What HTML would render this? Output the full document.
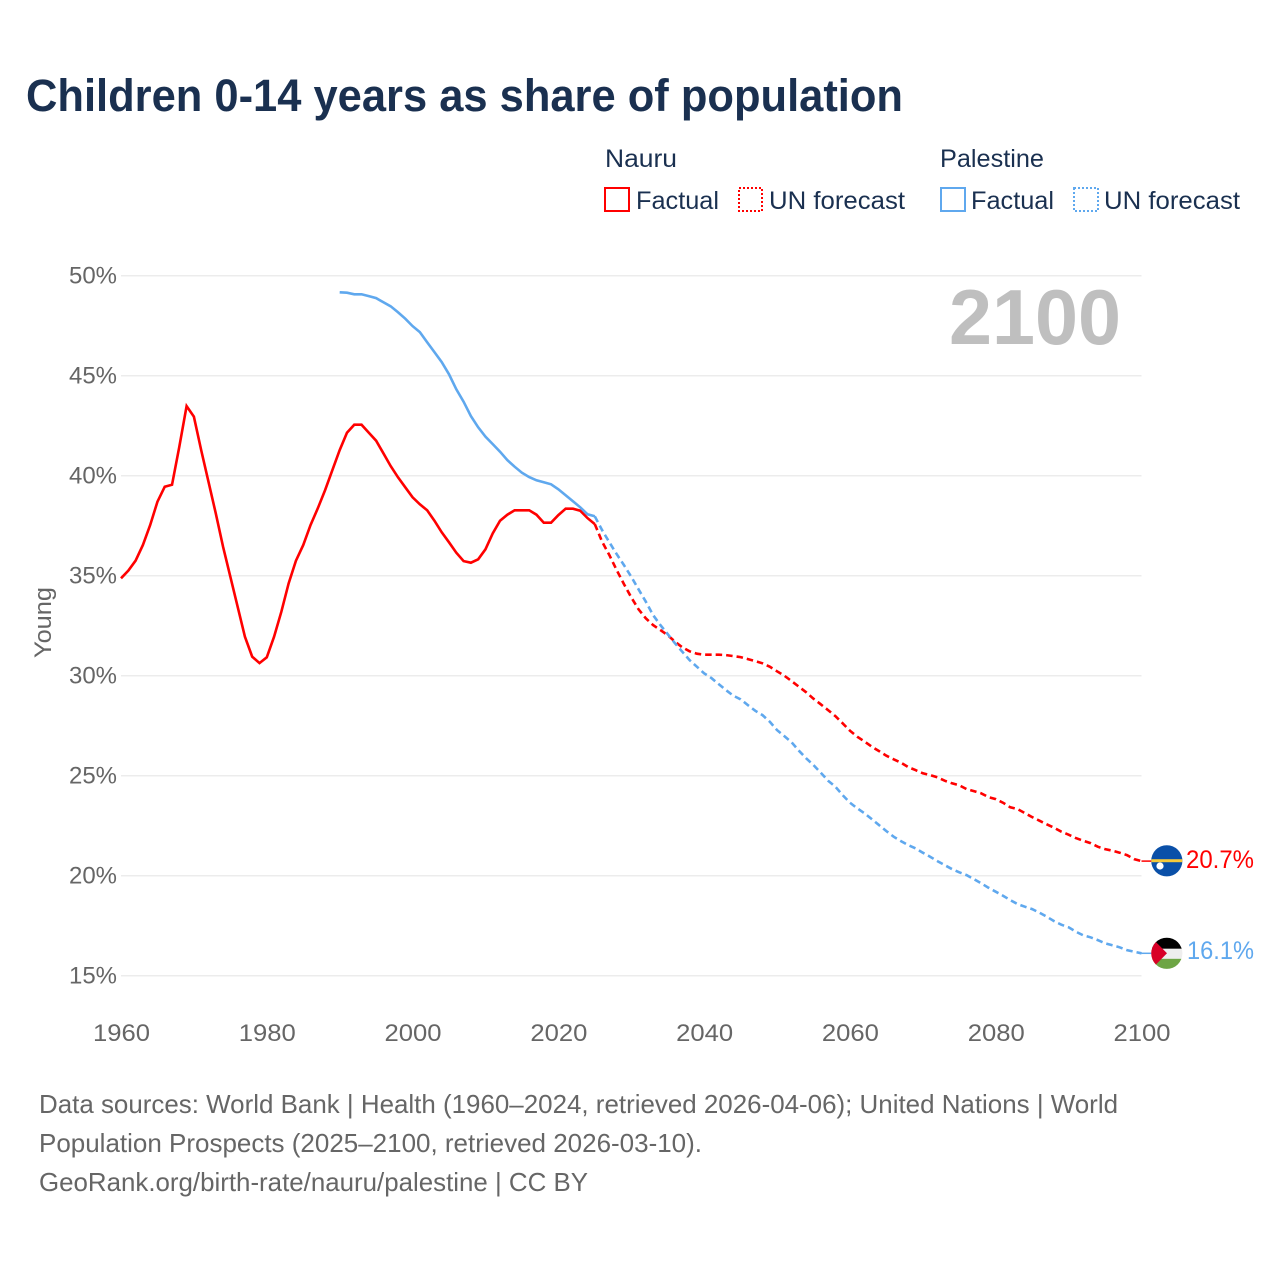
<!DOCTYPE html>
<html lang="en">
<head>
<meta charset="utf-8">
<title>Children 0-14 years as share of population</title>
<style>
html,body{margin:0;padding:0;background:#fff;}
svg{display:block;}
text{font-family:"Liberation Sans",sans-serif;}
</style>
</head>
<body>
<svg id="chart" width="1280" height="1280" viewBox="0 0 1280 1280" xmlns="http://www.w3.org/2000/svg">
  <defs>
    <clipPath id="clip-nauru"><circle cx="1166.8" cy="860.8" r="15.6"/></clipPath>
    <clipPath id="clip-palestine"><circle cx="1166.8" cy="953.3" r="15.6"/></clipPath>
  </defs>
  <rect x="0" y="0" width="1280" height="1280" fill="#fff"/>
  <text x="26" y="111" font-size="45" font-weight="700" fill="#1a3050" textLength="877" lengthAdjust="spacingAndGlyphs">Children 0-14 years as share of population</text>

  <g>
    <text x="605" y="167" font-size="25" fill="#1a3050" textLength="72" lengthAdjust="spacingAndGlyphs">Nauru</text>
    <rect x="605" y="188" width="24" height="23" fill="none" stroke="#ff0000" stroke-width="2"/>
    <text x="636" y="209" font-size="25" fill="#1a3050" textLength="83" lengthAdjust="spacingAndGlyphs">Factual</text>
    <rect x="739" y="188" width="23" height="23" fill="none" stroke="#ff0000" stroke-width="2" stroke-dasharray="2 2"/>
    <text x="769" y="209" font-size="25" fill="#1a3050" textLength="136" lengthAdjust="spacingAndGlyphs">UN forecast</text>
  </g>
  <g>
    <text x="940" y="167" font-size="25" fill="#1a3050" textLength="104" lengthAdjust="spacingAndGlyphs">Palestine</text>
    <rect x="941" y="188" width="24" height="23" fill="none" stroke="#5fa8ee" stroke-width="2"/>
    <text x="971" y="209" font-size="25" fill="#1a3050" textLength="83" lengthAdjust="spacingAndGlyphs">Factual</text>
    <rect x="1074" y="188" width="24" height="23" fill="none" stroke="#5fa8ee" stroke-width="2" stroke-dasharray="2 2"/>
    <text x="1104" y="209" font-size="25" fill="#1a3050" textLength="136" lengthAdjust="spacingAndGlyphs">UN forecast</text>
  </g>

  <g id="grid"></g>
  <g id="y-ticks"></g>
  <g id="x-ticks"></g>
  <text transform="translate(51 622.5) rotate(-90)" text-anchor="middle" font-size="24" fill="#666" textLength="71" lengthAdjust="spacingAndGlyphs">Young</text>
  <text x="949" y="344" font-size="78" font-weight="700" fill="#bfbfbf" textLength="172" lengthAdjust="spacingAndGlyphs">2100</text>

  <g id="series"></g>

  <g clip-path="url(#clip-nauru)">
    <rect x="1150" y="844" width="34" height="34" fill="#0a50a8"/>
    <rect x="1150" y="859.2" width="34" height="3" fill="#f5c93a"/>
    <circle cx="1160" cy="866" r="3.6" fill="#fff"/>
  </g>
  <g clip-path="url(#clip-palestine)">
    <rect x="1150" y="936" width="34" height="12.8" fill="#000"/>
    <rect x="1150" y="948.8" width="34" height="10" fill="#eeeeee"/>
    <rect x="1150" y="958.8" width="34" height="12" fill="#6da544"/>
    <polygon points="1150,936 1167,953.3 1150,970.6" fill="#d80027"/>
  </g>
  <text id="value-nauru" x="1186" y="868" font-size="25" fill="#ff0000" textLength="68" lengthAdjust="spacingAndGlyphs"></text>
  <text id="value-palestine" x="1187" y="959" font-size="25" fill="#5fa8ee" textLength="67" lengthAdjust="spacingAndGlyphs"></text>

  <g>
    <text x="39" y="1113" font-size="26" fill="#666" textLength="1079" lengthAdjust="spacingAndGlyphs">Data sources: World Bank | Health (1960–2024, retrieved 2026-04-06); United Nations | World</text>
    <text x="39" y="1152" font-size="26" fill="#666" textLength="663" lengthAdjust="spacingAndGlyphs">Population Prospects (2025–2100, retrieved 2026-03-10).</text>
    <text x="39" y="1191" font-size="26" fill="#666" textLength="549" lengthAdjust="spacingAndGlyphs">GeoRank.org/birth-rate/nauru/palestine | CC BY</text>
  </g>
</svg>
<script>
const yTicks = [50, 45, 40, 35, 30, 25, 20, 15];
const xTicks = [1960, 1980, 2000, 2020, 2040, 2060, 2080, 2100];

const nauruFactualStart = 1960;
const nauruFactual = [34.87,35.25,35.75,36.53,37.53,38.7,39.45,39.55,41.45,43.48,42.95,41.28,39.7,38.12,36.45,34.95,33.45,31.95,30.95,30.63,30.92,31.95,33.2,34.62,35.75,36.53,37.53,38.37,39.28,40.28,41.28,42.15,42.55,42.55,42.15,41.75,41.12,40.48,39.92,39.42,38.92,38.57,38.27,37.75,37.17,36.67,36.15,35.73,35.65,35.82,36.32,37.12,37.75,38.05,38.27,38.27,38.27,38.05,37.65,37.65,38.03,38.35,38.35,38.25,37.88,37.58];

const nauruForecastStart = 2025;
const nauruForecast = [37.58,36.7,36.03,35.28,34.58,33.92,33.32,32.87,32.53,32.28,32.03,31.7,31.42,31.22,31.1,31.05,31.05,31.05,31.03,30.98,30.93,30.83,30.73,30.62,30.45,30.22,30,29.73,29.45,29.17,28.85,28.57,28.28,27.98,27.62,27.25,26.95,26.71,26.45,26.23,26,25.82,25.65,25.43,25.28,25.12,25.03,24.92,24.75,24.62,24.52,24.33,24.23,24.12,23.93,23.83,23.65,23.42,23.33,23.13,22.93,22.75,22.57,22.4,22.2,22.05,21.88,21.75,21.63,21.45,21.33,21.25,21.15,21.03,20.83,20.73];

const palestineFactualStart = 1990;
const palestineFactual = [49.17,49.15,49.07,49.07,48.98,48.88,48.67,48.47,48.17,47.85,47.48,47.18,46.67,46.18,45.68,45.07,44.32,43.7,42.98,42.42,41.95,41.58,41.2,40.78,40.45,40.15,39.93,39.77,39.67,39.57,39.32,39.02,38.72,38.42,38.07,37.97];

const palestineForecastStart = 2025;
const palestineForecast = [37.97,37.28,36.67,36.08,35.53,34.95,34.32,33.7,33.03,32.53,32.08,31.62,31.2,30.78,30.45,30.12,29.88,29.58,29.28,29,28.82,28.53,28.25,28.03,27.7,27.28,26.98,26.67,26.25,25.87,25.53,25.15,24.75,24.45,24.03,23.65,23.37,23.12,22.83,22.53,22.23,21.95,21.73,21.53,21.37,21.15,20.95,20.73,20.53,20.33,20.17,20.03,19.83,19.62,19.4,19.2,19,18.78,18.58,18.45,18.33,18.15,17.95,17.73,17.55,17.42,17.2,17.02,16.92,16.78,16.62,16.52,16.42,16.28,16.2,16.12];

const endValueNauruLabel = "20.7%";
const endValuePalestineLabel = "16.1%";

const SVG_NS = "http://www.w3.org/2000/svg";
function xScale(year) { return 121 + (year - 1960) * (1020.5 / 140); }
function yScale(value) { return 275.7 + (50 - value) * 20; }

const gridGroup = document.getElementById("grid");
const yGroup = document.getElementById("y-ticks");
const xGroup = document.getElementById("x-ticks");
const seriesGroup = document.getElementById("series");

yTicks.forEach(function (tick) {
  const line = document.createElementNS(SVG_NS, "line");
  
  
  line.setAttribute("x1", xScale(1960));
  line.setAttribute("x2", xScale(2100));
  line.setAttribute("y1", yScale(tick));
  line.setAttribute("y2", yScale(tick));
  line.setAttribute("stroke", "#ececec");
  line.setAttribute("stroke-width", "1.5");
  gridGroup.appendChild(line);

  const label = document.createElementNS(SVG_NS, "text");
  
  
  label.setAttribute("x", 69);
  label.setAttribute("y", yScale(tick) + 8);
  label.setAttribute("font-size", "24");
  label.setAttribute("fill", "#666");
  label.setAttribute("textLength", "48");
  label.setAttribute("lengthAdjust", "spacingAndGlyphs");
  label.textContent = tick + "%";
  yGroup.appendChild(label);
});

xTicks.forEach(function (tick) {
  const label = document.createElementNS(SVG_NS, "text");
  
  
  label.setAttribute("x", xScale(tick) + 0.5);
  label.setAttribute("y", 1041);
  label.setAttribute("text-anchor", "middle");
  label.setAttribute("font-size", "24");
  label.setAttribute("fill", "#666");
  label.setAttribute("textLength", "57");
  label.setAttribute("lengthAdjust", "spacingAndGlyphs");
  label.textContent = tick;
  xGroup.appendChild(label);
});

function linePoints(startYear, values) {
  return values.map(function (value, i) {
    return xScale(startYear + i).toFixed(2) + "," + yScale(value).toFixed(2);
  }).join(" ");
}

const nauruFactualLine = document.createElementNS(SVG_NS, "polyline");


nauruFactualLine.setAttribute("points", linePoints(nauruFactualStart, nauruFactual));
nauruFactualLine.setAttribute("fill", "none");
nauruFactualLine.setAttribute("stroke", "#ff0000");
nauruFactualLine.setAttribute("stroke-width", "2.6");
seriesGroup.appendChild(nauruFactualLine);

const palestineFactualLine = document.createElementNS(SVG_NS, "polyline");


palestineFactualLine.setAttribute("points", linePoints(palestineFactualStart, palestineFactual));
palestineFactualLine.setAttribute("fill", "none");
palestineFactualLine.setAttribute("stroke", "#5fa8ee");
palestineFactualLine.setAttribute("stroke-width", "2.6");
seriesGroup.appendChild(palestineFactualLine);

const nauruForecastLine = document.createElementNS(SVG_NS, "polyline");


nauruForecastLine.setAttribute("points", linePoints(nauruForecastStart, nauruForecast));
nauruForecastLine.setAttribute("fill", "none");
nauruForecastLine.setAttribute("stroke", "#ff0000");
nauruForecastLine.setAttribute("stroke-width", "2.6");
nauruForecastLine.setAttribute("stroke-dasharray", "6.5 4");
seriesGroup.appendChild(nauruForecastLine);

const palestineForecastLine = document.createElementNS(SVG_NS, "polyline");


palestineForecastLine.setAttribute("points", linePoints(palestineForecastStart, palestineForecast));
palestineForecastLine.setAttribute("fill", "none");
palestineForecastLine.setAttribute("stroke", "#5fa8ee");
palestineForecastLine.setAttribute("stroke-width", "2.6");
palestineForecastLine.setAttribute("stroke-dasharray", "6.5 4");
seriesGroup.appendChild(palestineForecastLine);

const nauruConnector = document.createElementNS(SVG_NS, "line");


nauruConnector.setAttribute("x1", xScale(2100));
nauruConnector.setAttribute("x2", xScale(2100) + 11);
nauruConnector.setAttribute("y1", yScale(nauruForecast[nauruForecast.length - 1]));
nauruConnector.setAttribute("y2", yScale(nauruForecast[nauruForecast.length - 1]));
nauruConnector.setAttribute("stroke", "#ff0000");
nauruConnector.setAttribute("stroke-width", "1.5");
seriesGroup.appendChild(nauruConnector);

const palestineConnector = document.createElementNS(SVG_NS, "line");


palestineConnector.setAttribute("x1", xScale(2100));
palestineConnector.setAttribute("x2", xScale(2100) + 11);
palestineConnector.setAttribute("y1", yScale(palestineForecast[palestineForecast.length - 1]));
palestineConnector.setAttribute("y2", yScale(palestineForecast[palestineForecast.length - 1]));
palestineConnector.setAttribute("stroke", "#5fa8ee");
palestineConnector.setAttribute("stroke-width", "1.5");
seriesGroup.appendChild(palestineConnector);

document.getElementById("value-nauru").textContent = endValueNauruLabel;
document.getElementById("value-palestine").textContent = endValuePalestineLabel;
</script>
</body>
</html>
